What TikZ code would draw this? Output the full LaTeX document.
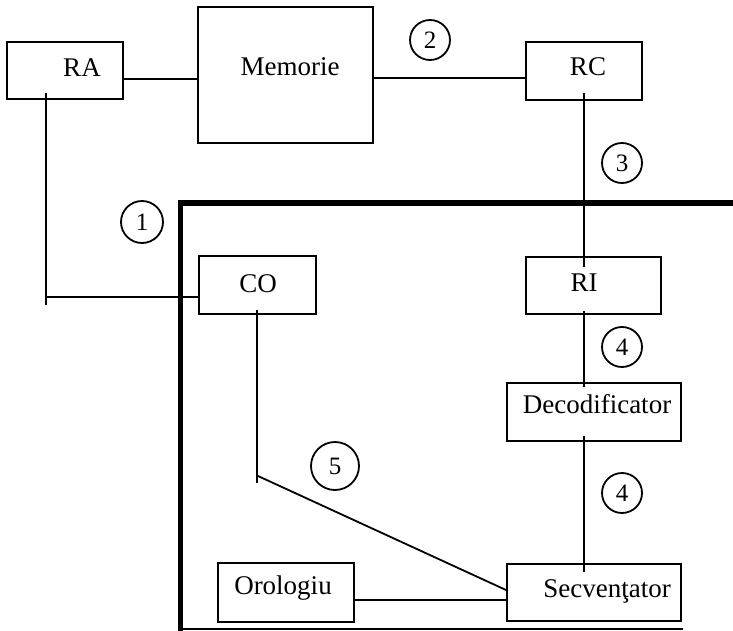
\documentclass[tikz,border=0pt]{standalone}
\usepackage{fontspec}
\setmainfont{Liberation Serif}
\begin{document}
\begin{tikzpicture}[x=1pt,y=-1pt,
  box/.style={draw,line width=2pt,inner sep=0pt,rectangle},
  lbl/.style={font=\fontsize{27}{32}\selectfont,inner sep=0pt,anchor=base},
  num/.style={draw,circle,line width=1.8pt,inner sep=0pt,font=\fontsize{25}{28}\selectfont},
  conn/.style={line width=1.8pt},
  thickline/.style={line width=5pt}]
\useasboundingbox (0,0) rectangle (733,631);
% boxes
\node[box,minimum width=116pt,minimum height=57pt] (ra) at (65,70.5) {};
\node[box,minimum width=175pt,minimum height=136pt] (mem) at (285.5,75) {};
\node[box,minimum width=116pt,minimum height=58pt] (rc) at (584,71) {};
\node[box,minimum width=117pt,minimum height=58pt] (co) at (257.5,285) {};
\node[box,minimum width=135pt,minimum height=57pt] (ri) at (593.5,285.5) {};
\node[box,minimum width=174pt,minimum height=58pt] (dec) at (594,412) {};
\node[box,minimum width=174pt,minimum height=57pt] (sec) at (594,592.5) {};
\node[box,minimum width=136pt,minimum height=59pt] (oro) at (286,592.5) {};
% labels
\node[lbl] (ratxt) at (82,77) {RA};
\node[lbl] (memtxt) at (290,76) {Memorie};
\node[lbl] (rctxt) at (588,76) {RC};
\node[lbl] (cotxt) at (258,292) {CO};
\node[lbl] (ritxt) at (584,291) {RI};
\node[lbl] (dectxt) at (597,413) {Decodificator};
\node[lbl] (sectxt) at (607,597) {Secvenţator};
\node[lbl] (orotxt) at (283,594) {Orologiu};
% numbered circles
\node[num,minimum size=42pt] (c1) at (142,222) {1};
\node[num,minimum size=40pt] (c2) at (430,40) {2};
\node[num,minimum size=40pt] (c3) at (622,163) {3};
\node[num,minimum size=40pt] (c4a) at (622,347) {4};
\node[num,minimum size=40pt] (c4b) at (622,493) {4};
\node[num,minimum size=48pt] (c5) at (335,466) {5};
% helper coordinates
\coordinate (raA) at (46,93);
\coordinate (raB) at (46,305);
\coordinate (raC) at (46,297);
\coordinate (coA) at (257,310);
\coordinate (coB) at (257,483);
\coordinate (coC) at (258,476);
\coordinate (frameR) at (733,203);
\coordinate (frameC) at (180,203);
\coordinate (frameB) at (180,631);
\coordinate (botL) at (180,629);
\coordinate (botR) at (683,629);
% connectors
\draw[conn] (ra.east |- 0,79) -- (mem.west |- 0,79);
\draw[conn] (mem.east |- 0,78) -- (rc.west |- 0,78);
\draw[conn] (584,93) -- (584,267);
\draw[conn] (584,311) -- (584,387);
\draw[conn] (584,436) -- (584,572);
\draw[conn] (raA) -- (raB);
\draw[conn] (raC) -- (co.west |- raC);
\draw[conn] (coA) -- (coB);
\draw[conn] (coC) -- (sec.west |- 0,590);
\draw[conn] (oro.east |- 0,600) -- (sec.west |- 0,600);
% frame
\draw[thickline] (frameR) -- (frameC) -- (frameB);
\draw[line width=2pt] (botL) -- (botR);
\end{tikzpicture}
\end{document}
